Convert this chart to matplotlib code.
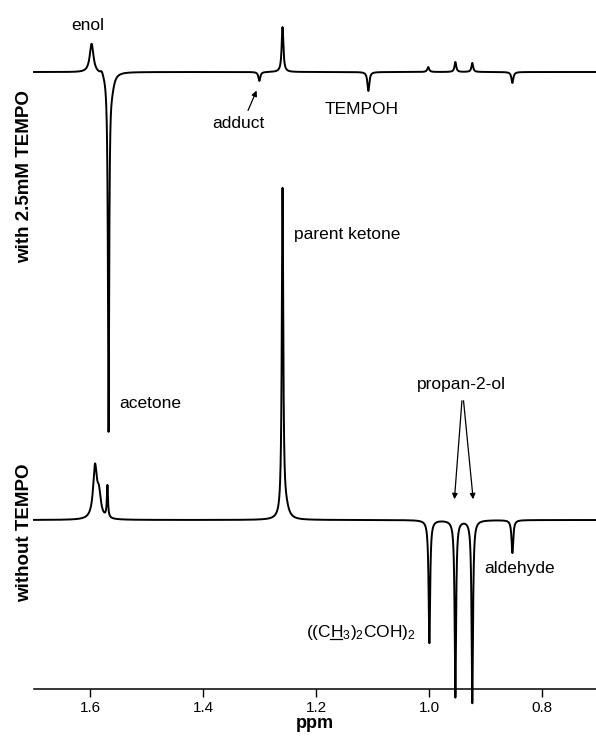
import numpy as np
import matplotlib
matplotlib.use("Agg")
import matplotlib.pyplot as plt
from matplotlib.lines import Line2D
from matplotlib.transforms import IdentityTransform

plt.rcParams['font.family'] = ['Liberation Sans', 'DejaVu Sans']
plt.rcParams['mathtext.fontset'] = 'custom'
plt.rcParams['mathtext.rm'] = 'Liberation Sans'
plt.rcParams['mathtext.it'] = 'Liberation Sans'

# peak lists: position (ppm), intensity (a.u.), half width (ppm)
tempo_ppm = [1.598, 1.580, 1.568, 1.562, 1.301, 1.260, 1.108, 1.002, 0.954, 0.924, 0.853]
tempo_int = [29, 4, -356, -12, -9, 45, -19, 5, 10, 9, -11]
tempo_hw = [0.004, 0.003, 0.0013, 0.005, 0.002, 0.0018, 0.002, 0.002, 0.0018, 0.0018, 0.002]

notempo_ppm = [1.592, 1.585, 1.570, 1.260, 1.254, 1.000, 0.954, 0.924, 0.853]
notempo_int = [51, 22, 32, 328, 10, -123, -177, -183, -33]
notempo_hw = [0.004, 0.004, 0.0012, 0.0015, 0.006, 0.0016, 0.0015, 0.0015, 0.0018]

tick_vals = [1.6, 1.4, 1.2, 1.0, 0.8]

ppm = np.linspace(1.70, 0.705, 5000)


def spectrum(pos, amp, hw):
    y = np.zeros_like(ppm)
    for p, a, w in zip(pos, amp, hw):
        y += a / (1 + ((ppm - p) / w) ** 2)
    return y


fig = plt.figure(figsize=(5.96, 7.37), dpi=100)
ax = fig.add_axes([34 / 596, 48 / 737, 562 / 596, 689 / 737])

# offsets put the two traces one above the other
ax.plot(ppm, spectrum(tempo_ppm, tempo_int, tempo_hw) + 617, color='black', lw=1.4, clip_on=False)
ax.plot(ppm, spectrum(notempo_ppm, notempo_int, notempo_hw) + 169, color='black', lw=1.4, clip_on=False)

ax.set_xlim(1.70, 0.705)
ax.set_ylim(0, 689)
for s in ['left', 'right', 'top']:
    ax.spines[s].set_visible(False)
ax.spines['bottom'].set_linewidth(1.1)
ax.set_yticks([])
ax.set_xticks(tick_vals)
ax.set_xticklabels([f'{v:.1f}' for v in tick_vals])
ax.tick_params(axis='x', direction='out', length=6, width=1.0, labelsize=11, pad=3)
ax.set_xlabel('ppm', fontsize=13, fontweight='bold', labelpad=0)

fs = 12.5
ax.text(1.605, 663, 'enol', fontsize=fs, ha='center', va='center')
ax.text(1.338, 566, 'adduct', fontsize=fs, ha='center', va='center')
ax.text(1.120, 579, 'TEMPOH', fontsize=fs, ha='center', va='center')
ax.text(1.146, 455, 'parent ketone', fontsize=fs, ha='center', va='center')
ax.text(1.494, 286, 'acetone', fontsize=fs, ha='center', va='center')
ax.text(0.943, 305, 'propan-2-ol', fontsize=fs, ha='center', va='center')
ax.text(0.841, 121, 'aldehyde', fontsize=fs, ha='center', va='center')
diol = ax.text(1.122, 56, r'((CH$_3$)$_2$COH)$_2$', fontsize=fs, ha='center', va='center')

# underline the H (mathtext has no \underline)
r = fig.canvas.get_renderer()
bb = diol.get_window_extent(r)
tmp = fig.text(0, 0, '((C', fontsize=fs)
w1 = tmp.get_window_extent(r).width
tmp.set_text('H')
wh = tmp.get_window_extent(r).width
tmp.remove()
uy = bb.y0 + 4
fig.add_artist(Line2D([bb.x0 + w1 + 0.5, bb.x0 + w1 + wh - 0.5], [uy, uy], color='black', lw=0.9,
                      transform=IdentityTransform()))

arrow = dict(arrowstyle='-|>', color='black', lw=0.9, mutation_scale=8)
ax.annotate('', xy=(1.304, 601), xytext=(1.323, 576), arrowprops=arrow)
ax.annotate('', xy=(0.956, 187), xytext=(0.942, 291), arrowprops=arrow)
ax.annotate('', xy=(0.922, 187), xytext=(0.940, 291), arrowprops=arrow)

fig.text(25 / 596, 1 - 177 / 737, 'with 2.5mM TEMPO', rotation=90, fontsize=13.5,
         fontweight='bold', ha='center', va='center')
fig.text(25 / 596, 1 - 533 / 737, 'without TEMPO', rotation=90, fontsize=13.5,
         fontweight='bold', ha='center', va='center')

fig.savefig('out.png', dpi=100)
